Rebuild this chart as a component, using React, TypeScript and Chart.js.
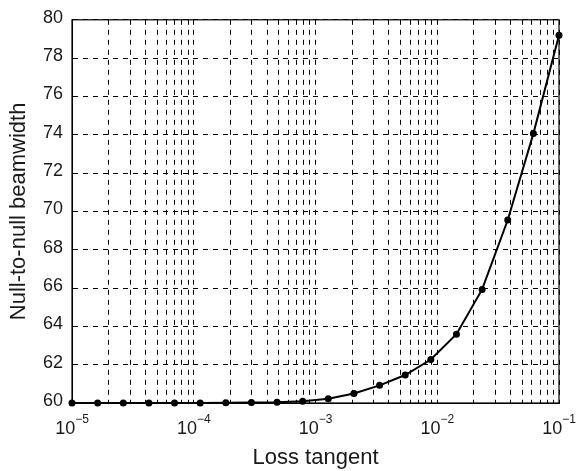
import { useEffect, useRef } from 'react';
import { Chart, registerables } from 'chart.js';

Chart.register(...registerables);

// Data
const lossTangent = [
  1e-5, 1.624e-5, 2.637e-5, 4.281e-5, 6.952e-5,
  1.129e-4, 1.833e-4, 2.976e-4, 4.833e-4, 7.848e-4,
  1.274e-3, 2.069e-3, 3.36e-3, 5.456e-3, 8.859e-3,
  1.438e-2, 2.336e-2, 3.793e-2, 6.158e-2, 1e-1,
];
const beamwidth = [
  60.0, 60.0, 60.0, 60.0, 60.0,
  60.0, 60.01, 60.02, 60.04, 60.09,
  60.22, 60.5, 60.92, 61.46, 62.27,
  63.59, 65.93, 69.55, 74.06, 79.2,
];

// Axis ticks
const xDecades = [1e-5, 1e-4, 1e-3, 1e-2, 1e-1];
const xExponentLabels = ['\u22125', '\u22124', '\u22123', '\u22122', '\u22121'];
const xMinorMultipliers = [2, 3, 4, 5, 6, 7, 8, 9];
const yTickValues = [60, 62, 64, 66, 68, 70, 72, 74, 76, 78, 80];

const FONT = '"Liberation Sans", Arial, Helvetica, sans-serif';
const TEXT = '#1a1a1a';

const xTickValues: number[] = [];
xDecades.forEach((d, i) => {
  xTickValues.push(d);
  if (i < xDecades.length - 1) xMinorMultipliers.forEach((m) => xTickValues.push(d * m));
});

const framePlugin = {
  id: 'frameAndLabels',
  afterDraw(chart: any) {
    const { ctx, chartArea } = chart;
    ctx.save();
    ctx.setLineDash([]);
    ctx.strokeStyle = '#000';
    ctx.lineWidth = 1.2;
    ctx.strokeRect(chartArea.left, chartArea.top, chartArea.right - chartArea.left, chartArea.bottom - chartArea.top);

    const xs = chart.scales.x;
    ctx.fillStyle = TEXT;
    ctx.textBaseline = 'alphabetic';
    ctx.textAlign = 'left';
    const baseFont = `18px ${FONT}`;
    const expFont = `12px ${FONT}`;
    xDecades.forEach((v, i) => {
      const px = xs.getPixelForValue(v);
      ctx.font = baseFont;
      const wb = ctx.measureText('10').width;
      ctx.font = expFont;
      const we = ctx.measureText(xExponentLabels[i]).width;
      const start = px - (wb + we) / 2;
      ctx.font = baseFont;
      ctx.fillText('10', start, chartArea.bottom + 30.5);
      ctx.font = expFont;
      ctx.fillText(xExponentLabels[i], start + wb, chartArea.bottom + 20);
    });
    ctx.restore();
  },
};

export default function App() {
  const ref = useRef<HTMLCanvasElement>(null);

  useEffect(() => {
    if (!ref.current) return;
    const chart = new Chart(ref.current, {
      type: 'line',
      data: {
        datasets: [
          {
            data: lossTangent.map((x, i) => ({ x, y: beamwidth[i] })),
            borderColor: '#000',
            backgroundColor: '#000',
            borderWidth: 2,
            pointRadius: 3.5,
            pointBackgroundColor: '#000',
            pointBorderColor: '#000',
            pointBorderWidth: 0,
            tension: 0,
            clip: false as any,
          },
        ],
      },
      options: {
        responsive: false,
        animation: false,
        devicePixelRatio: 1,
        layout: { padding: { top: 19, right: 24, left: 0, bottom: 0 } },
        plugins: { legend: { display: false }, tooltip: { enabled: false } },
        scales: {
          x: {
            type: 'logarithmic',
            min: 1e-5,
            max: 1e-1,
            afterBuildTicks: (s: any) => {
              s.ticks = xTickValues.map((v) => ({ value: v }));
            },
            afterFit: (s: any) => {
              s.height = 68;
            },
            ticks: { autoSkip: false, callback: () => '', padding: 0, font: { size: 1 } },
            grid: { color: '#000', lineWidth: 1, drawTicks: false },
            border: { display: true, color: '#000', width: 1, dash: [5, 5] },
            title: {
              display: true,
              text: 'Loss tangent',
              color: TEXT,
              font: { family: FONT, size: 22 },
              padding: 0,
            },
          },
          y: {
            type: 'linear',
            min: 60,
            max: 80,
            afterBuildTicks: (s: any) => {
              s.ticks = yTickValues.map((v) => ({ value: v }));
            },
            afterFit: (s: any) => {
              s.width = 72;
            },
            ticks: {
              autoSkip: false,
              padding: 9,
              labelOffset: -2,
              color: TEXT,
              font: { family: FONT, size: 18 },
            },
            grid: { color: '#000', lineWidth: 1, drawTicks: false },
            border: { display: true, color: '#000', width: 1, dash: [5, 5] },
            title: {
              display: true,
              text: 'Null-to-null beamwidth',
              color: TEXT,
              font: { family: FONT, size: 22 },
              padding: { top: 6, bottom: 0 },
            },
          },
        },
      },
      plugins: [framePlugin],
    });
    return () => chart.destroy();
  }, []);

  return (
    <div style={{ position: 'fixed', left: 0, top: 0, width: 583, height: 471, background: '#fff' }}>
      <canvas ref={ref} width={583} height={471} style={{ display: 'block' }} />
    </div>
  );
}
